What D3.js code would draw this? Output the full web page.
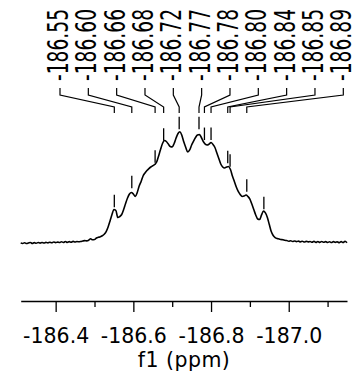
<!DOCTYPE html>
<html>
<head>
<meta charset="utf-8">
<script src="https://cdn.jsdelivr.net/npm/d3@7"></script>
<style>
    html, body { margin: 0; padding: 0; background: #fff; }
    svg { display: block; }
    text { font-family: 'DejaVu Sans', Verdana, sans-serif; fill: #000; }
</style>
</head>
<body>
<div id="chart"></div>
<script>
// chemical shift grid (ppm) and intensity (% of tallest peak)
const ppm = [
    -186.310, -186.315, -186.320, -186.325, -186.330, -186.335, -186.340, -186.345, -186.350, -186.355,
    -186.360, -186.365, -186.370, -186.375, -186.380, -186.385, -186.390, -186.395, -186.400, -186.405,
    -186.410, -186.415, -186.420, -186.425, -186.430, -186.435, -186.440, -186.445, -186.450, -186.455,
    -186.460, -186.465, -186.470, -186.475, -186.480, -186.485, -186.490, -186.495, -186.500, -186.505,
    -186.510, -186.515, -186.520, -186.525, -186.530, -186.535, -186.540, -186.545, -186.550, -186.555,
    -186.560, -186.565, -186.570, -186.575, -186.580, -186.585, -186.590, -186.595, -186.600, -186.605,
    -186.610, -186.615, -186.620, -186.625, -186.630, -186.635, -186.640, -186.645, -186.650, -186.655,
    -186.660, -186.665, -186.670, -186.675, -186.680, -186.685, -186.690, -186.695, -186.700, -186.705,
    -186.710, -186.715, -186.720, -186.725, -186.730, -186.735, -186.740, -186.745, -186.750, -186.755,
    -186.760, -186.765, -186.770, -186.775, -186.780, -186.785, -186.790, -186.795, -186.800, -186.805,
    -186.810, -186.815, -186.820, -186.825, -186.830, -186.835, -186.840, -186.845, -186.850, -186.855,
    -186.860, -186.865, -186.870, -186.875, -186.880, -186.885, -186.890, -186.895, -186.900, -186.905,
    -186.910, -186.915, -186.920, -186.925, -186.930, -186.935, -186.940, -186.945, -186.950, -186.955,
    -186.960, -186.965, -186.970, -186.975, -186.980, -186.985, -186.990, -186.995, -187.000, -187.005,
    -187.010, -187.015, -187.020, -187.025, -187.030, -187.035, -187.040, -187.045, -187.050, -187.055,
    -187.060, -187.065, -187.070, -187.075, -187.080, -187.085, -187.090, -187.095, -187.100, -187.105,
    -187.110, -187.115, -187.120, -187.125, -187.130, -187.135, -187.140, -187.145, -187.150
]
const intensity = [
    0, -0.4, 0.2, -0.5, 0, 0.4, -0.4, 0.3, -0.2, 0.4,
    -0.1, 0.5, 0, 0.6, 0.1, 0.7, 0.2, 0.9, 0.3, 0.8,
    0.4, 1.1, 0.5, 1.3, 0.6, 1.2, 0.7, 1.5, 0.9, 1.3,
    1.1, 1.4, 1.8, 2.1, 1.9, 2.5, 3.8, 2.9, 3.1, 4.5,
    5.1, 5.6, 6.5, 7.9, 10.3, 14.4, 19.8, 25.6, 30.1, 29.2,
    22.9, 23.8, 25.6, 30.1, 35.5, 40.4, 44.0, 45.4, 44.0, 41.8,
    45.4, 51.2, 55.3, 60.2, 62.9, 65.1, 66.9, 68.3, 69.4, 70.5,
    72.8, 78.2, 84.0, 89.4, 92.1, 91.2, 88.9, 86.7, 86.3, 89.4,
    94.3, 98.4, 100, 96.6, 90.7, 85.8, 81.8, 83.6, 88.1, 91.6,
    94.8, 97.0, 97.5, 94.8, 91.2, 88.9, 88.1, 88.9, 90.3, 88.5,
    85.8, 80.9, 75.9, 71.0, 68.3, 67.4, 68.3, 68.8, 66.1, 60.2,
    55.3, 50.3, 46.3, 43.6, 41.8, 42.2, 43.1, 41.8, 39.5, 35.0,
    30.1, 25.2, 21.6, 21.1, 25.2, 28.7, 27.0, 22.9, 16.6, 10.3,
    6.7, 4.9, 4.0, 3.6, 3.1, 2.9, 2.4, 2.2, 1.6, 2.0,
    1.4, 1.8, 1.2, 1.7, 1.0, 1.6, 0.9, 1.5, 1.0, 1.4,
    0.7, 1.5, 0.6, 1.3, 0.6, 1.4, 0.7, 1.2, 0.5, 1.1,
    0.4, 1.2, 0.6, 1.0, 0.3, 1.2, 0.4, 1.6, 0.3
]

// picked peaks: position, printed label
const peakPpm = [-186.551, -186.596, -186.656, -186.678, -186.718, -186.769, -186.783, -186.800, -186.843, -186.849, -186.892]
const peakLabels = ['-186.55', '-186.60', '-186.66', '-186.68', '-186.72', '-186.77', '-186.78', '-186.80', '-186.84', '-186.85', '-186.89']

// peak markers above the trace (last one has its label off the page)
const markPpm = [-186.551, -186.596, -186.656, -186.678, -186.718, -186.769, -186.783, -186.800, -186.843, -186.849, -186.892, -186.936]
const markInt = [30.3, 47.3, 70.4, 90.1, 100.4, 100.4, 90.7, 90.7, 69.8, 66.8, 44.3, 28.5]

const tickValues = [-186.4, -186.6, -186.8, -187.0]
const tickLabels = ['-186.4', '-186.6', '-186.8', '-187.0']
const minorTicks = [-186.5, -186.7, -186.9, -187.1]
const axisTitle = 'f1 (ppm)'

const width = 354
const height = 379

const svg = d3.select('#chart').append('svg')
    .attr('width', width)
    .attr('height', height)
    .attr('viewBox', `0 0 ${width} ${height}`)

// ppm axis runs right to left
const xScale = d3.scaleLinear()
    .domain([-186.31, -187.15])
    .range([20.7, 347])
const yScale = d3.scaleLinear()
    .domain([0, 100])
    .range([243, 131.7])

const axisY = 301

// minor ticks
svg.append('g')
    .attr('transform', `translate(0, ${axisY})`)
    .call(d3.axisBottom(xScale).tickValues(minorTicks).tickSize(6).tickSizeOuter(0).tickFormat(''))
    .call(g => g.select('.domain').remove())
    .call(g => g.selectAll('line').attr('stroke', '#000').attr('stroke-width', 1.3))

// major ticks + labels
svg.append('g')
    .attr('transform', `translate(0, ${axisY})`)
    .call(d3.axisBottom(xScale)
        .tickValues(tickValues)
        .tickSize(11)
        .tickSizeOuter(0)
        .tickPadding(16)
        .tickFormat((d, i) => tickLabels[i]))
    .call(g => g.select('.domain').attr('stroke', '#000').attr('stroke-width', 1.3))
    .call(g => g.selectAll('line').attr('stroke', '#000').attr('stroke-width', 1.3))
    .call(g => g.selectAll('text')
        .attr('font-family', "'DejaVu Sans', Verdana, sans-serif")
        .attr('font-size', 20.5)
        .attr('fill', '#000'))

svg.append('text')
    .attr('x', (xScale.range()[0] + xScale.range()[1]) / 2)
    .attr('y', 366.7)
    .attr('text-anchor', 'middle')
    .attr('font-size', 20.5)
    .attr('textLength', 92)
    .text(axisTitle)

// spectrum trace
const line = d3.line()
    .x((d, i) => xScale(ppm[i]))
    .y(d => yScale(d))
    .curve(d3.curveMonotoneX)

svg.append('path')
    .datum(intensity)
    .attr('d', line)
    .attr('fill', 'none')
    .attr('stroke', '#000')
    .attr('stroke-width', 1.6)
    .attr('stroke-linejoin', 'round')

// peak markers
svg.append('g')
    .selectAll('line')
    .data(markPpm)
    .join('line')
    .attr('x1', d => xScale(d))
    .attr('x2', d => xScale(d))
    .attr('y1', (d, i) => yScale(markInt[i]) - 2)
    .attr('y2', (d, i) => yScale(markInt[i]) - 14.5)
    .attr('stroke', '#000')
    .attr('stroke-width', 1.3)

// label slots spread evenly across the top
const slot = d3.scaleLinear()
    .domain([0, peakLabels.length - 1])
    .range([60, 343.3])

const yTop = 88, yElbow = 95, yBend = 107, yEnd = 113

svg.append('g')
    .selectAll('path')
    .data(peakPpm)
    .join('path')
    .attr('d', (d, i) => d3.line()([
        [slot(i), yTop], [slot(i), yElbow], [xScale(d), yBend], [xScale(d), yEnd]
    ]))
    .attr('fill', 'none')
    .attr('stroke', '#000')
    .attr('stroke-width', 1.2)

svg.append('g')
    .selectAll('text')
    .data(peakLabels)
    .join('text')
    .attr('transform', (d, i) => `translate(${slot(i) + 8}, 81) rotate(-90)`)
    .attr('font-size', 27.5)
    .attr('textLength', 72)
    .attr('lengthAdjust', 'spacingAndGlyphs')
    .text(d => d)
</script>
</body>
</html>
